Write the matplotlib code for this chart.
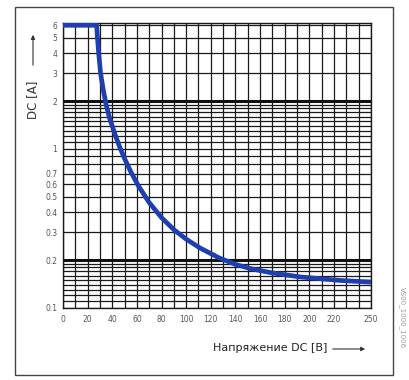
# DC current vs DC voltage curve (log paper style)
import numpy as np
import matplotlib.pyplot as plt
from matplotlib.patches import Rectangle

# curve
voltage = [0, 27.3, 28, 29, 30.5, 32.5, 35, 38, 42, 46, 50, 55, 61, 70, 80, 90, 100, 111,
           127, 140, 152, 170, 192, 225, 250]
current = [6, 6, 5, 4, 3, 2.4, 1.9, 1.55, 1.25, 1.03, 0.87, 0.72, 0.59, 0.46, 0.37, 0.311,
           0.271, 0.239, 0.206, 0.188, 0.177, 0.166, 0.157, 0.149, 0.1455]

# axis ticks
x_ticks = [0, 20, 40, 60, 80, 100, 120, 140, 160, 180, 200, 220, 250]
x_grid = list(range(0, 251, 10))
y_ticks = [0.1, 0.2, 0.3, 0.4, 0.5, 0.6, 0.7, 1, 2, 3, 4, 5, 6]
y_tick_labels = ["0.1", "0.2", "0.3", "0.4", "0.5", "0.6", "0.7", "1", "2", "3", "4", "5", "6"]
y_minor = [0.11, 0.12, 0.13, 0.14, 0.15, 0.16, 0.17, 0.18, 0.19, 0.8, 0.9,
           1.1, 1.2, 1.3, 1.4, 1.5, 1.6, 1.7, 1.8, 1.9]
y_heavy = [0.2, 2]

fig = plt.figure(figsize=(4.09, 3.80), dpi=100)
ax = fig.add_axes([0.154, 0.1895, 0.753, 0.75])

ax.set_yscale('log')
ax.set_xlim(0, 250)
ax.set_ylim(0.1, 6.2)

ax.set_xticks(x_grid, minor=True)
ax.set_xticks(x_ticks)
ax.set_xticklabels([str(t) for t in x_ticks])
ax.set_yticks(y_ticks)
ax.set_yticklabels(y_tick_labels)
ax.set_yticks(y_minor, minor=True)
ax.yaxis.set_minor_formatter(plt.NullFormatter())

ax.grid(True, which='both', color='#1a1a1a', linewidth=0.9)
for y in y_heavy:
    ax.axhline(y, color='#111111', linewidth=2.2)

ax.tick_params(which='both', length=0, labelsize=5.5, labelcolor='#555555')
ax.tick_params(axis='x', pad=5)
ax.tick_params(axis='y', pad=4)
for s in ax.spines.values():
    s.set_color('#1a1a1a')
    s.set_linewidth(1)

ax.plot(voltage, current, color='#1f3fae', linewidth=3.4, solid_capstyle='butt',
        solid_joinstyle='round', zorder=5)

# axis titles with arrows
fig.text(33 / 409, 1 - 100 / 380, "DC [A]", rotation=90, ha='center', va='center',
         fontsize=8.5, color='#333333')
fig.add_artist(plt.Annotation("", xy=(33 / 409, 1 - 32 / 380), xytext=(33 / 409, 1 - 68 / 380),
                              xycoords='figure fraction',
                              arrowprops=dict(arrowstyle='-|>', color='#333333', lw=0.8,
                                              mutation_scale=6)))
fig.text(270 / 409, 1 - 348 / 380, "Напряжение DC [B]", ha='center', va='center',
         fontsize=8, color='#222222')
fig.add_artist(plt.Annotation("", xy=(368 / 409, 1 - 349 / 380), xytext=(330 / 409, 1 - 349 / 380),
                              xycoords='figure fraction',
                              arrowprops=dict(arrowstyle='-|>', color='#333333', lw=0.8,
                                              mutation_scale=6)))

# outer frame
fig.add_artist(Rectangle((15 / 409, 1 - 375 / 380), 378 / 409, 368 / 380,
                         transform=fig.transFigure, fill=False, edgecolor='#444444', lw=1))

# side code text
fig.text(402 / 409, 1 - 318 / 380, "VS00_1000_1006", rotation=270, ha='center', va='center',
         fontsize=5, color='#999999')

fig.savefig("out.png", dpi=100)
